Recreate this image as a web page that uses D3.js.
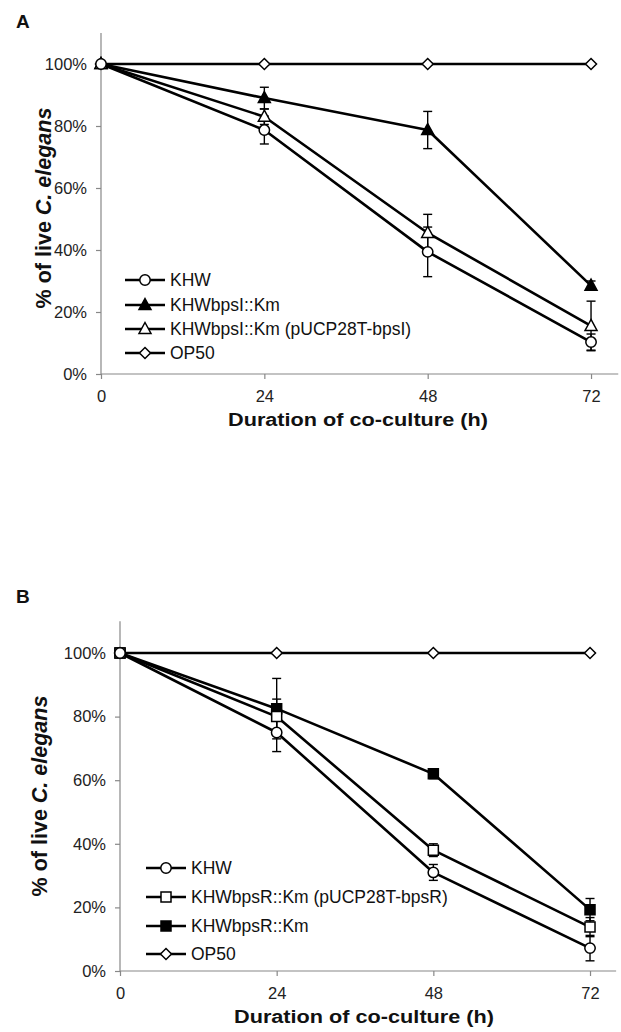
<!DOCTYPE html>
<html>
<head>
<meta charset="utf-8">
<script src="https://cdn.jsdelivr.net/npm/d3@7"></script>
<style>
  html, body { margin: 0; padding: 0; background: #fff; }
  svg { display: block; font-family: "Liberation Sans", Arial, Helvetica, sans-serif; }
</style>
</head>
<body>
<svg id="chart" width="621" height="1032"></svg>
<script>
// ---------- DATA ----------
const hours = [0, 24, 48, 72];
const xTicks = [0, 24, 48, 72];
const yTicks = [0, 20, 40, 60, 80, 100];

// Panel A
const seriesNamesA = ["KHW", "KHWbpsI::Km", "KHWbpsI::Km (pUCP28T-bpsI)", "OP50"];
const a_KHW      = [100, 78.7, 39.4, 10.3];
const a_KHW_err  = [0, 4.5, 8, 2.6];
const a_bpsI     = [100, 89, 78.7, 28.5];
const a_bpsI_err = [0, 3.5, 6, 1.5];
const a_comp     = [100, 83, 45.5, 15.5];
const a_comp_err = [0, 2.5, 6, 8];
const a_OP50     = [100, 100, 100, 100];
const a_OP50_err = [0, 0, 0, 0];

// Panel B
const seriesNamesB = ["KHW", "KHWbpsR::Km (pUCP28T-bpsR)", "KHWbpsR::Km", "OP50"];
const b_KHW      = [100, 75, 31, 7.2];
const b_KHW_err  = [0, 6, 2.5, 4];
const b_comp     = [100, 80, 38, 13.8];
const b_comp_err = [0, 5.5, 2, 3];
const b_bpsR     = [100, 82.5, 62, 19.3];
const b_bpsR_err = [0, 9.5, 1.5, 3.5];
const b_OP50     = [100, 100, 100, 100];
const b_OP50_err = [0, 0, 0, 0];

// ---------- DRAWING ----------
const svg = d3.select("#chart");

function markerPath(type) {
  switch (type) {
    case "triangle": return "M0,-6.5L6,4.5L-6,4.5Z";
    case "square": return "M-5,-5H5V5H-5Z";
    case "diamond": return "M0,-5.5L5.5,0L0,5.5L-5.5,0Z";
    default: return null;
  }
}

function drawMarker(g, type, fill, x, y) {
  if (type === "circle") {
    g.append("circle").attr("cx", x).attr("cy", y).attr("r", 5.2)
      .attr("fill", fill).attr("stroke", "#000").attr("stroke-width", 1.5);
  } else {
    g.append("path").attr("d", markerPath(type))
      .attr("transform", `translate(${x},${y})`)
      .attr("fill", fill).attr("stroke", "#000").attr("stroke-width", 1.5)
      .attr("stroke-linejoin", "miter");
  }
}

function panel(cfg) {
  const x = d3.scaleLinear().domain([0, 76]).range([cfg.x0, cfg.x0 + 76 * cfg.pxPerH]);
  const y = d3.scaleLinear().domain([0, 110]).range([cfg.y0, cfg.y0 - 110 * cfg.pxPerPct]);
  const g = svg.append("g");

  // panel letter
  g.append("text").attr("x", 16).attr("y", cfg.letterY).text(cfg.letter)
    .attr("font-size", 19).attr("font-weight", "bold").attr("fill", "#111");

  // y axis
  const yAxis = d3.axisLeft(y).tickValues(yTicks).tickSize(5).tickFormat(d => d + "%");
  const ya = g.append("g").attr("transform", `translate(${cfg.x0},0)`).call(yAxis);
  ya.select(".domain").attr("stroke", "#888").attr("stroke-width", 1.2).attr("d", `M-0,${y(110)}V${y(0)}`);
  ya.selectAll(".tick line").attr("stroke", "#888").attr("stroke-width", 1.2);
  ya.selectAll(".tick text").attr("font-size", 16.5).attr("fill", "#222").attr("x", -14)
    .attr("font-family", "Liberation Sans, Arial, sans-serif");

  // x axis
  const xAxis = d3.axisBottom(x).tickValues(xTicks).tickSize(5).tickFormat(d3.format("d"));
  const xa = g.append("g").attr("transform", `translate(0,${cfg.y0})`).call(xAxis);
  xa.select(".domain").attr("stroke", "#888").attr("stroke-width", 1.2).attr("d", `M${x(0)},0H${x(76)}`);
  xa.selectAll(".tick line").attr("stroke", "#888").attr("stroke-width", 1.2);
  xa.selectAll(".tick text").attr("font-size", 16.5).attr("fill", "#222").attr("y", 16)
    .attr("font-family", "Liberation Sans, Arial, sans-serif");

  // x title
  g.append("text").attr("x", cfg.xTitleX).attr("y", cfg.xTitleY).attr("text-anchor", "middle")
    .attr("font-size", 18).attr("font-weight", "bold").attr("fill", "#111")
    .attr("textLength", 260).attr("lengthAdjust", "spacingAndGlyphs")
    .text("Duration of co-culture (h)");

  // y title
  const yt = g.append("text")
    .attr("transform", `translate(${cfg.yTitleX},${cfg.yTitleY}) rotate(-90)`)
    .attr("text-anchor", "middle").attr("font-size", 21.5).attr("font-weight", "bold").attr("fill", "#111");
  yt.append("tspan").text("% of live ");
  yt.append("tspan").attr("font-style", "italic").text("C. elegans");

  const line = d3.line().x((d, i) => x(hours[i])).y(d => y(d));

  // lines
  cfg.series.forEach(s => {
    g.append("path").datum(s.values).attr("d", line)
      .attr("fill", "none").attr("stroke", "#000").attr("stroke-width", 2.6)
      .attr("stroke-linejoin", "round");
  });
  // error bars
  cfg.series.forEach(s => {
    s.values.forEach((v, i) => {
      const e = s.err[i];
      if (!e) return;
      const cx = x(hours[i]);
      const top = y(v + e), bot = y(v - e);
      g.append("line").attr("x1", cx).attr("x2", cx).attr("y1", top).attr("y2", bot)
        .attr("stroke", "#000").attr("stroke-width", 1.4);
      [top, bot].forEach(yy => g.append("line").attr("x1", cx - 4.5).attr("x2", cx + 4.5)
        .attr("y1", yy).attr("y2", yy).attr("stroke", "#000").attr("stroke-width", 1.4));
    });
  });
  // markers (draw in given order)
  cfg.markerOrder.forEach(idx => {
    const s = cfg.series[idx];
    s.values.forEach((v, i) => drawMarker(g, s.type, s.fill, x(hours[i]), y(v)));
  });

  // legend
  cfg.series.forEach((s, i) => {
    const ly = cfg.legY[i];
    g.append("line").attr("x1", cfg.legX).attr("x2", cfg.legX + 40).attr("y1", ly).attr("y2", ly)
      .attr("stroke", "#000").attr("stroke-width", 2.6);
    drawMarker(g, s.type, s.fill, cfg.legX + 20, ly);
    g.append("text").attr("x", cfg.legX + 45).attr("y", ly + 6).attr("font-size", 17.5)
      .attr("fill", "#111").text(s.name);
  });
}

panel({
  letter: "A", letterY: 28,
  x0: 101, pxPerH: 6.806, y0: 374, pxPerPct: 3.1,
  xTitleX: 358, xTitleY: 426,
  yTitleX: 51, yTitleY: 208,
  legX: 125, legY: [280, 305, 329, 353],
  series: [
    { name: seriesNamesA[0], values: a_KHW, err: a_KHW_err, type: "circle", fill: "#fff" },
    { name: seriesNamesA[1], values: a_bpsI, err: a_bpsI_err, type: "triangle", fill: "#000" },
    { name: seriesNamesA[2], values: a_comp, err: a_comp_err, type: "triangle", fill: "#fff" },
    { name: seriesNamesA[3], values: a_OP50, err: a_OP50_err, type: "diamond", fill: "#fff" }
  ],
  markerOrder: [3, 1, 2, 0]
});

panel({
  letter: "B", letterY: 603,
  x0: 120, pxPerH: 6.528, y0: 971, pxPerPct: 3.18,
  xTitleX: 364, xTitleY: 1023,
  yTitleX: 47, yTitleY: 796,
  legX: 146, legY: [868, 897, 926, 954],
  series: [
    { name: seriesNamesB[0], values: b_KHW, err: b_KHW_err, type: "circle", fill: "#fff" },
    { name: seriesNamesB[1], values: b_comp, err: b_comp_err, type: "square", fill: "#fff" },
    { name: seriesNamesB[2], values: b_bpsR, err: b_bpsR_err, type: "square", fill: "#000" },
    { name: seriesNamesB[3], values: b_OP50, err: b_OP50_err, type: "diamond", fill: "#fff" }
  ],
  markerOrder: [3, 2, 1, 0]
});
</script>
</body>
</html>
